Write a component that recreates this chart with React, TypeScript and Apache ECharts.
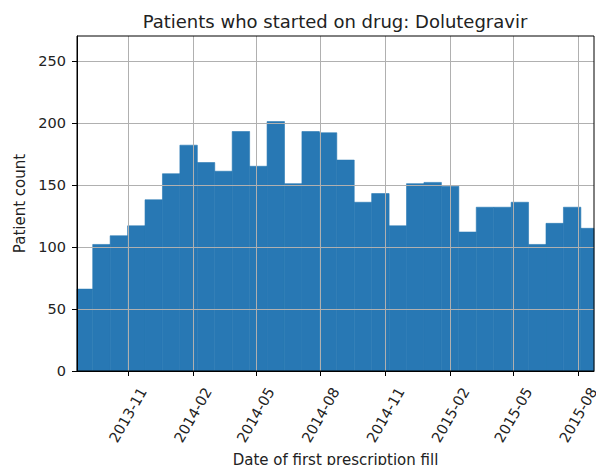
import React, { useEffect, useRef } from "react";
import * as echarts from "echarts";

// Histogram counts per bin (left to right)
const counts = [66, 102, 109, 117, 138, 159, 182, 168, 161, 193, 165, 201, 151, 193, 192, 170, 136, 143, 117, 151, 152, 149, 112, 132, 132, 136, 102, 119, 132, 115];
// First bin left edge and bin width (days)
const firstBinStart = Date.UTC(2013, 7, 18, 7);
const binDays = 24.7;
// Axis extent
const xMin = Date.UTC(2013, 7, 20, 17);
const xMax = Date.UTC(2015, 7, 23, 5);
const xTickLabels = ["2013-11", "2014-02", "2014-05", "2014-08", "2014-11", "2015-02", "2015-05", "2015-08"];
const yTicks = [0, 50, 100, 150, 200, 250];
const yMax = 270;

const DAY = 86400000;
const toMs = (s: string) => {
  const [y, m] = s.split("-").map(Number);
  return Date.UTC(y, m - 1, 1);
};
const xTickValues = xTickLabels.map(toMs);

const FONT = "DejaVu Sans";
const TXT = "#222";
const BAR = "#2878b4";
const GRIDC = "#b0b0b0";

export default function App() {
  const ref = useRef<HTMLDivElement>(null);
  useEffect(() => {
    if (!ref.current) return;
    const chart = echarts.init(ref.current, null, { renderer: "svg" });
    const data = counts.map((c, i) => [
      firstBinStart + i * binDays * DAY,
      firstBinStart + (i + 1) * binDays * DAY,
      c,
    ]);
    chart.setOption({
      animation: false,
      backgroundColor: "#fff",
      grid: {
        left: 77,
        right: 2,
        top: 36,
        bottom: 94,
        containLabel: false,
        outerBoundsMode: "none",
        show: true,
        borderColor: "#000",
        borderWidth: 1,
        backgroundColor: "transparent",
        z: 6,
      },
      graphic: [
        {
          type: "text",
          x: 335,
          y: 21,
          style: {
            text: "Patients who started on drug: Dolutegravir",
            font: `18px '${FONT}'`,
            fill: TXT,
            textAlign: "center",
            textVerticalAlign: "middle",
          },
        },
      ],
      xAxis: {
        type: "value",
        min: xMin,
        max: xMax,
        z: 5,
        name: "Date of first prescription fill",
        nameLocation: "middle",
        nameGap: 80,
        nameTextStyle: { fontFamily: FONT, fontSize: 15, color: TXT },
        axisLine: { show: true, lineStyle: { color: "#000", width: 1 } },
        axisTick: { show: true, length: 5, lineStyle: { color: "#000" }, customValues: xTickValues },
        axisLabel: {
          customValues: xTickValues,
          rotate: 60,
          align: "center",
          verticalAlign: "middle",
          margin: 44,
          fontFamily: FONT,
          fontSize: 14.5,
          color: TXT,
          hideOverlap: false,
          formatter: (v: number) => {
            const i = xTickValues.indexOf(v);
            return i >= 0 ? xTickLabels[i] : "";
          },
        },
        splitLine: { show: true, lineStyle: { color: GRIDC, width: 1 } },
      },
      yAxis: {
        type: "value",
        min: 0,
        max: yMax,
        z: 5,
        name: "Patient count",
        nameLocation: "middle",
        nameRotate: 90,
        nameGap: 49,
        nameTextStyle: { fontFamily: FONT, fontSize: 15, color: TXT },
        axisLine: { show: true, lineStyle: { color: "#000", width: 1 } },
        axisTick: { show: true, length: 5, lineStyle: { color: "#000" }, customValues: yTicks },
        axisLabel: {
          customValues: yTicks,
          margin: 11,
          fontFamily: FONT,
          fontSize: 14.5,
          color: TXT,
        },
        splitLine: { show: true, lineStyle: { color: GRIDC, width: 1 } },
      },
      series: [
        {
          type: "custom",
          z: 2,
          encode: { x: [0, 1], y: 2 },
          data,
          renderItem: (params: any, api: any) => {
            const p0 = api.coord([api.value(0), api.value(2)]);
            const p1 = api.coord([api.value(1), 0]);
            const cs = params.coordSys;
            const rect = echarts.graphic.clipRectByRect(
              { x: p0[0], y: p0[1], width: p1[0] - p0[0], height: p1[1] - p0[1] },
              { x: cs.x, y: cs.y, width: cs.width, height: cs.height }
            );
            if (!rect) return null;
            return { type: "rect", shape: rect, style: { fill: BAR, stroke: BAR, lineWidth: 0.6 } };
          },
        },
      ],
    });
    return () => chart.dispose();
  }, []);
  return (
    <div
      ref={ref}
      style={{ position: "fixed", left: 0, top: 0, width: 596, height: 465 }}
    />
  );
}
